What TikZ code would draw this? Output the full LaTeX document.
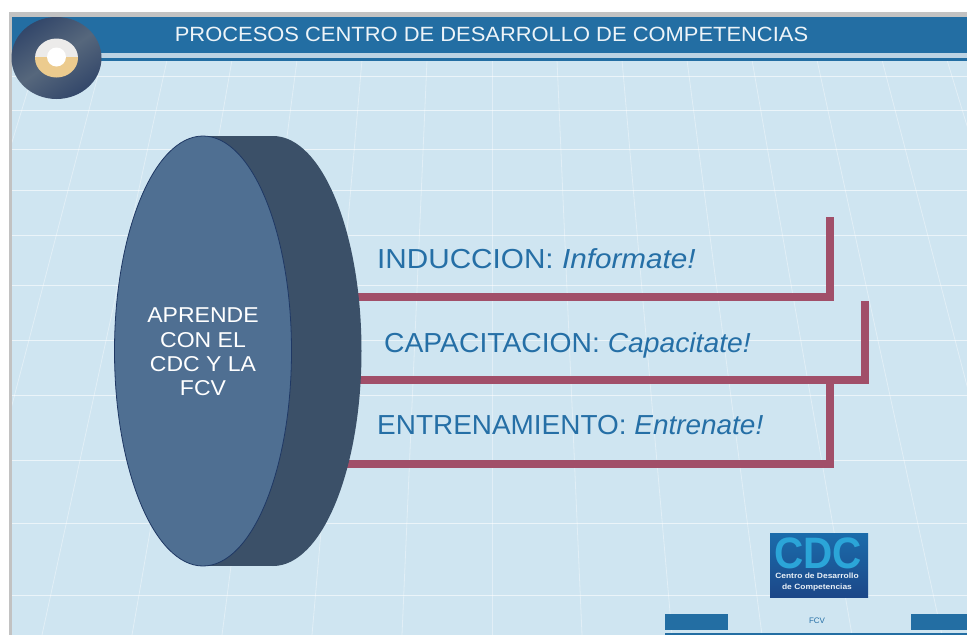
\documentclass[tikz,border=0pt]{standalone}
\usepackage{graphicx}
\usepackage{fontspec}
\setmainfont{Liberation Sans}
\usetikzlibrary{shapes.geometric}
\definecolor{pagebg}{HTML}{CFE5F1}
\definecolor{headblue}{HTML}{236EA3}
\definecolor{bordergray}{HTML}{C2C2C2}
\definecolor{barred}{HTML}{A14F69}
\definecolor{cylfront}{HTML}{4F6F92}
\definecolor{cylside}{HTML}{3B5068}
\definecolor{cyledge}{HTML}{1F3864}
\definecolor{labelblue}{HTML}{256FA6}
\definecolor{discdark}{HTML}{33476A}
\definecolor{disclight}{HTML}{56677C}
\definecolor{discring}{HTML}{ECEBEA}
\definecolor{disctan}{HTML}{ECCB8E}
\definecolor{logotop}{HTML}{1B6CAB}
\definecolor{logobot}{HTML}{1C4788}
\definecolor{logocyan}{HTML}{2BA5D8}
\tikzset{
  gridline/.style={white,opacity=.6,line width=.8pt},
  fanline/.style={white,opacity=.38,line width=.8pt},
  barline/.style={barred,line width=8pt,line join=miter},
  labeltext/.style={text=labelblue,font=\fontsize{27.5}{30}\selectfont,anchor=west,inner sep=0pt},
  cyltext/.style={text=white,align=center,font=\fontsize{21.5}{24.3}\selectfont,inner sep=0pt},
  footbox/.style={fill=headblue,draw=none}
}
\begin{document}
\begin{tikzpicture}[x=1pt,y=-1pt]
\useasboundingbox (0,0) rectangle (967,635);
\fill[white] (0,0) rectangle (967,635);
\fill[bordergray] (9,12) rectangle (967,635);
\fill[pagebg] (12,17) rectangle (967,635);
% perspective grid
\begin{scope}
\clip (12,60) rectangle (967,635);
\foreach \k in {-7,...,9}{
  \draw[fanline] ({492+65*\k},60) -- ({492+90*\k},635);
}
\foreach \yy in {76,110,149,190,235,285,340,395,460,523,595}{
  \draw[gridline] (12,\yy) -- (967,\yy);
}
\end{scope}
% header
\fill[headblue] (12,17) rectangle (967,53);
\fill[headblue] (12,57.5) rectangle (967,60.5);
\fill[white!70!headblue] (12,53) rectangle (967,57.5);
\node[text=white!92!headblue,font=\fontsize{20.6}{24}\selectfont,inner sep=0pt] (title) at (491.5,34) {\scalebox{1.064}[1]{PROCESOS CENTRO DE DESARROLLO DE COMPETENCIAS}};
% badge
\node[ellipse,minimum width=90pt,minimum height=82pt,inner sep=0pt,draw=none,
  top color=discdark,bottom color=discdark,middle color=disclight,shading angle=35] (disc) at (56.5,58) {};
\begin{scope}
\clip (56.5,58) ellipse [x radius=21.5,y radius=19.5];
\fill[discring] (30,30) rectangle (85,57);
\fill[disctan] (30,57) rectangle (85,85);
\end{scope}
\node[ellipse,fill=white,minimum width=19pt,minimum height=19pt,inner sep=0pt] (hub) at (56.5,57) {};
% connector anchors
\coordinate (s1) at (340,297);
\coordinate (c1) at (830,297);
\coordinate (e1) at (830,217);
\coordinate (s2) at (340,380);
\coordinate (c2) at (865,380);
\coordinate (e2) at (865,301);
\coordinate (s3) at (330,464);
\coordinate (c3) at (830,464);
\coordinate (e3) at (830,380);
\draw[barline] (s1) -- (c1) -- (e1);
\draw[barline] (s3) -- (c3) -- (e3);
\draw[barline] (s2) -- (c2) -- (e2);
% cylinder
\node[ellipse,minimum width=177pt,minimum height=430pt,inner sep=0pt,fill=cylside,draw=none] (back) at (273,351) {};
\fill[cylside] (203,136) rectangle (273,566);
\node[ellipse,minimum width=177pt,minimum height=430pt,inner sep=0pt,fill=cylfront,draw=cyledge,line width=.8pt] (front) at (203,351)
  {};
\node[cyltext] (cyllabel) at (203,352) {\scalebox{1.07}[1]{APRENDE}\\\scalebox{1.07}[1]{CON EL}\\\scalebox{1.07}[1]{CDC Y LA}\\\scalebox{1.07}[1]{FCV}};
% labels
\node[labeltext] (l1) at (377,259) {\scalebox{1.08}[1]{INDUCCION: \textit{Informate!}}};
\node[labeltext] (l2) at (384,345) {\scalebox{1.028}[1]{CAPACITACION: \textit{Capacitate!}}};
\node[labeltext] (l3) at (377,425.5) {\scalebox{1.016}[1]{ENTRENAMIENTO: \textit{Entrenate!}}};
% logo
\node[minimum width=98pt,minimum height=64pt,inner sep=0pt,top color=logotop,bottom color=logobot,draw=none] (logo) at (819,565) {};
\node[text=logocyan,font=\fontsize{44}{44}\selectfont\bfseries,inner sep=0pt] (logocdc) at (818,553) {\scalebox{.92}[1]{CDC}};
\node[text=white!90!logotop,font=\fontsize{7.6}{10.5}\selectfont\bfseries,align=center,inner sep=0pt] (logotext) at (817,582) {\scalebox{1.11}[1]{Centro de Desarrollo}\\\scalebox{1.11}[1]{de Competencias}};
% footer
\fill[footbox] (665,614) rectangle (728,630);
\fill[footbox] (911,614) rectangle (967,630);
\fill[footbox] (665,633) rectangle (967,635);
\node[text=labelblue,font=\fontsize{8}{9}\selectfont,inner sep=0pt] (fcv) at (817,620.5) {FCV};
\end{tikzpicture}
\end{document}
